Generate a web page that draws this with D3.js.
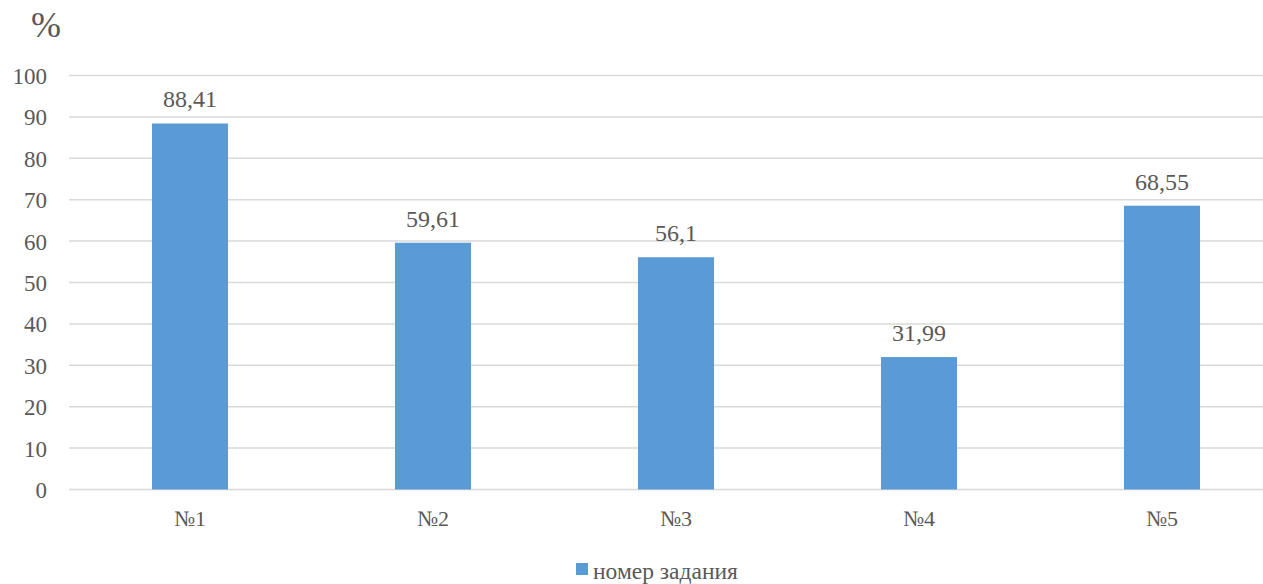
<!DOCTYPE html>
<html><head><meta charset="utf-8">
<script src="https://cdn.jsdelivr.net/npm/d3@7"></script>
<style>
html,body{margin:0;padding:0;background:#fff;}
svg{display:block;}
</style></head>
<body>
<script>
const categories = ["№1","№2","№3","№4","№5"];
const values = [88.41, 59.61, 56.1, 31.99, 68.55];
const valueLabels = ["88,41","59,61","56,1","31,99","68,55"];
const yTicks = [0,10,20,30,40,50,60,70,80,90,100];
const seriesName = "номер задания";
const unitLabel = "%";

const FONT = "Liberation Serif";
const TXT = "#595959";
const W = 1263, H = 584;
const svg = d3.select("body").append("svg").attr("width", W).attr("height", H)
  .attr("font-family", FONT);

const x = d3.scaleBand().domain(categories).range([68.5, 1283.5]).paddingInner(0.687).paddingOuter(0.3435);
const y = d3.scaleLinear().domain([0,100]).range([489.5, 75.5]);

// gridlines
svg.append("g").selectAll("line").data(yTicks).join("line")
  .attr("x1", 69).attr("x2", W)
  .attr("y1", d => y(d)).attr("y2", d => y(d))
  .attr("stroke", "#D9D9D9").attr("stroke-width", 1.5);

// y axis labels
const yAxis = d3.axisLeft(y).tickValues(yTicks).tickSize(0).tickPadding(0).tickFormat(d3.format("d"));
const ya = svg.append("g").attr("transform", "translate(47,0)").call(yAxis)
  .attr("font-family", FONT).attr("font-size", 23);
ya.select(".domain").remove();
ya.selectAll("text").attr("font-family", FONT).attr("font-size", 23).attr("fill", TXT).attr("dy", "0.35em");

// bars
svg.append("g").selectAll("rect").data(values).join("rect")
  .attr("x", (d,i) => x(categories[i]))
  .attr("width", x.bandwidth())
  .attr("y", d => y(d))
  .attr("height", d => y(0) - y(d))
  .attr("fill", "#5B9BD5");

// value labels
svg.append("g").selectAll("text").data(values).join("text")
  .attr("x", (d,i) => x(categories[i]) + x.bandwidth()/2)
  .attr("y", d => y(d) - 16)
  .attr("text-anchor", "middle")
  .attr("font-family", FONT).attr("font-size", 24).attr("fill", TXT)
  .text((d,i) => valueLabels[i]);

// x axis labels
const xAxis = d3.axisBottom(x).tickSize(0).tickPadding(0);
const xa = svg.append("g").attr("transform", "translate(0,510)").call(xAxis)
  .attr("font-family", FONT).attr("font-size", 22);
xa.select(".domain").remove();
xa.selectAll("text").attr("font-family", FONT).attr("font-size", 22).attr("fill", TXT).attr("dy", "0.71em");

// unit label
svg.append("text").attr("x", 46).attr("y", 37).attr("text-anchor", "middle")
  .attr("font-family", FONT).attr("font-size", 36).attr("fill", TXT).text(unitLabel);

// legend
svg.append("rect").attr("x", 576).attr("y", 563).attr("width", 12).attr("height", 12).attr("fill", "#5B9BD5");
svg.append("text").attr("x", 593).attr("y", 579)
  .attr("font-family", FONT).attr("font-size", 23.5).attr("fill", TXT).text(seriesName);
</script>
</body></html>
